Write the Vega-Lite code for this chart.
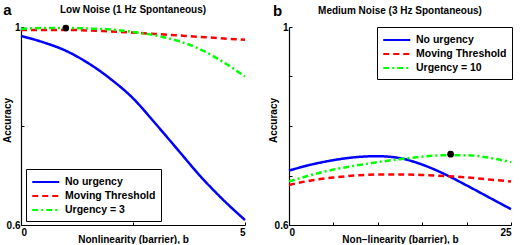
{
  "$schema": "https://vega.github.io/schema/vega-lite/v6.json",
  "padding": {"left": 2, "top": 2, "right": 0, "bottom": 0},
  "spacing": 18,
  "config": {
    "font": "Liberation Sans",
    "view": {"stroke": null},
    "axis": {
      "grid": false,
      "domainColor": "black",
      "domainWidth": 1.2,
      "tickColor": "black",
      "tickSize": -3,
      "tickWidth": 1,
      "labelFont": "Liberation Sans",
      "labelFontWeight": "bold",
      "labelFontSize": 10,
      "labelColor": "black",
      "titleFont": "Liberation Sans",
      "titleFontWeight": "bold",
      "titleFontSize": 10,
      "titleColor": "black"
    },
    "title": {"font": "Liberation Sans", "fontWeight": "bold", "fontSize": 10, "color": "black"},
    "legend": {
      "labelFont": "Liberation Sans",
      "labelFontWeight": "bold",
      "labelFontSize": 10.5,
      "labelColor": "black",
      "strokeColor": "black",
      "fillColor": "white",
      "padding": 5,
      "rowPadding": 0,
      "symbolType": "M-1,0H3",
      "symbolSize": 182,
      "symbolStrokeWidth": 2,
      "symbolFillColor": "transparent",
      "labelOffset": 18
    }
  },
  "datasets": {
    "a": [
      {"series": "No urgency", "b": 0, "acc": 0.982},
      {"series": "No urgency", "b": 0.5, "acc": 0.969},
      {"series": "No urgency", "b": 1, "acc": 0.952},
      {"series": "No urgency", "b": 1.5, "acc": 0.927},
      {"series": "No urgency", "b": 2, "acc": 0.895},
      {"series": "No urgency", "b": 2.5, "acc": 0.856},
      {"series": "No urgency", "b": 3, "acc": 0.805},
      {"series": "No urgency", "b": 3.5, "acc": 0.752},
      {"series": "No urgency", "b": 4, "acc": 0.699},
      {"series": "No urgency", "b": 4.5, "acc": 0.652},
      {"series": "No urgency", "b": 5, "acc": 0.610},
      {"series": "Moving Threshold", "b": 0, "acc": 0.994},
      {"series": "Moving Threshold", "b": 1, "acc": 0.994},
      {"series": "Moving Threshold", "b": 2, "acc": 0.991},
      {"series": "Moving Threshold", "b": 3, "acc": 0.986},
      {"series": "Moving Threshold", "b": 4, "acc": 0.980},
      {"series": "Moving Threshold", "b": 5, "acc": 0.974},
      {"series": "Urgency = 3", "b": 0, "acc": 0.996},
      {"series": "Urgency = 3", "b": 0.5, "acc": 0.998},
      {"series": "Urgency = 3", "b": 1, "acc": 0.998},
      {"series": "Urgency = 3", "b": 1.5, "acc": 0.997},
      {"series": "Urgency = 3", "b": 2, "acc": 0.995},
      {"series": "Urgency = 3", "b": 2.5, "acc": 0.990},
      {"series": "Urgency = 3", "b": 3, "acc": 0.983},
      {"series": "Urgency = 3", "b": 3.5, "acc": 0.972},
      {"series": "Urgency = 3", "b": 4, "acc": 0.955},
      {"series": "Urgency = 3", "b": 4.5, "acc": 0.930},
      {"series": "Urgency = 3", "b": 5, "acc": 0.900}
    ],
    "dotA": [{"b": 1.0, "acc": 0.998}],
    "bdata": [
      {"series": "No urgency", "b": 0, "acc": 0.710},
      {"series": "No urgency", "b": 2.5, "acc": 0.722},
      {"series": "No urgency", "b": 5, "acc": 0.731},
      {"series": "No urgency", "b": 7.5, "acc": 0.737},
      {"series": "No urgency", "b": 10, "acc": 0.739},
      {"series": "No urgency", "b": 12.5, "acc": 0.735},
      {"series": "No urgency", "b": 15, "acc": 0.722},
      {"series": "No urgency", "b": 17.5, "acc": 0.703},
      {"series": "No urgency", "b": 20, "acc": 0.680},
      {"series": "No urgency", "b": 22.5, "acc": 0.656},
      {"series": "No urgency", "b": 25, "acc": 0.632},
      {"series": "Moving Threshold", "b": 0, "acc": 0.681},
      {"series": "Moving Threshold", "b": 2.5, "acc": 0.690},
      {"series": "Moving Threshold", "b": 5, "acc": 0.696},
      {"series": "Moving Threshold", "b": 7.5, "acc": 0.700},
      {"series": "Moving Threshold", "b": 10, "acc": 0.702},
      {"series": "Moving Threshold", "b": 12.5, "acc": 0.702},
      {"series": "Moving Threshold", "b": 15, "acc": 0.701},
      {"series": "Moving Threshold", "b": 17.5, "acc": 0.699},
      {"series": "Moving Threshold", "b": 20, "acc": 0.696},
      {"series": "Moving Threshold", "b": 22.5, "acc": 0.692},
      {"series": "Moving Threshold", "b": 25, "acc": 0.688},
      {"series": "Urgency = 10", "b": 0, "acc": 0.688},
      {"series": "Urgency = 10", "b": 2.5, "acc": 0.701},
      {"series": "Urgency = 10", "b": 5, "acc": 0.712},
      {"series": "Urgency = 10", "b": 7.5, "acc": 0.720},
      {"series": "Urgency = 10", "b": 10, "acc": 0.727},
      {"series": "Urgency = 10", "b": 12.5, "acc": 0.733},
      {"series": "Urgency = 10", "b": 15, "acc": 0.738},
      {"series": "Urgency = 10", "b": 17.5, "acc": 0.741},
      {"series": "Urgency = 10", "b": 20, "acc": 0.741},
      {"series": "Urgency = 10", "b": 22.5, "acc": 0.736},
      {"series": "Urgency = 10", "b": 25, "acc": 0.727}
    ],
    "dotB": [{"b": 18.2, "acc": 0.743}]
  },
  "hconcat": [
    {
      "width": 224,
      "height": 198,
      "title": {"text": "Low Noise (1 Hz Spontaneous)", "baseline": "alphabetic", "offset": -21},
      "layer": [
        {
          "data": {"name": "a"},
          "mark": {"type": "line", "strokeWidth": 2.5, "interpolate": "monotone"},
          "encoding": {
            "x": {"field": "b", "type": "quantitative", "scale": {"domain": [0, 5], "nice": false},
              "axis": {"title": "Nonlinearity (barrier), b", "values": [0, 2.5, 5], "labelExpr": "datum.value == 2.5 ? '' : datum.label", "labelPadding": 5, "titleY": 17, "titleBaseline": "alphabetic"}},
            "y": {"field": "acc", "type": "quantitative", "scale": {"domain": [0.6, 1], "zero": false, "nice": false},
              "axis": {"title": "Accuracy", "values": [0.6, 0.8, 1], "labelExpr": "datum.value == 1 ? '1' : (datum.value == 0.6 ? '0.6' : '')", "labelPadding": 4, "titleX": -14, "titleY": 93, "titleAlign": "center", "titleBaseline": "middle", "titleAngle": 270}},
            "color": {"field": "series", "type": "nominal", "sort": null,
              "scale": {"domain": ["No urgency", "Moving Threshold", "Urgency = 3"], "range": ["#0000ff", "#ff0000", "#00ff00"]},
              "legend": {"title": null, "orient": "none", "legendX": 5, "legendY": 142}},
            "strokeDash": {"field": "series", "type": "nominal", "sort": null,
              "scale": {"domain": ["No urgency", "Moving Threshold", "Urgency = 3"], "range": [[1, 0], [6, 4], [6, 3, 2, 3]]},
              "legend": {"title": null, "orient": "none", "legendX": 5, "legendY": 142}}
          }
        },
        {
          "data": {"name": "dotA"},
          "mark": {"type": "circle", "size": 45, "color": "black", "opacity": 1},
          "encoding": {
            "x": {"field": "b", "type": "quantitative", "axis": {"orient": "top", "domain": false, "ticks": false, "labels": false, "title": "a", "titleFontSize": 15, "titleX": -14, "titleY": -13, "titleAlign": "center", "titleBaseline": "alphabetic"}},
            "y": {"field": "acc", "type": "quantitative"}
          }
        }
      ],
      "resolve": {"axis": {"x": "independent"}}
    },
    {
      "width": 222,
      "height": 198,
      "title": {"text": "Medium Noise (3 Hz Spontaneous)", "baseline": "alphabetic", "offset": -21},
      "layer": [
        {
          "data": {"name": "bdata"},
          "mark": {"type": "line", "strokeWidth": 2.5, "interpolate": "monotone"},
          "encoding": {
            "x": {"field": "b", "type": "quantitative", "scale": {"domain": [0, 25], "nice": false},
              "axis": {"title": "Non\u2212linearity (barrier), b", "values": [0, 5, 10, 15, 20, 25], "labelExpr": "datum.value == 0 || datum.value == 25 ? datum.label : ''", "labelPadding": 5, "titleY": 17, "titleBaseline": "alphabetic"}},
            "y": {"field": "acc", "type": "quantitative", "scale": {"domain": [0.6, 1], "zero": false, "nice": false},
              "axis": {"title": "Accuracy", "values": [0.6, 0.7, 0.8, 0.9, 1], "labelExpr": "datum.value == 1 ? '1' : (datum.value == 0.6 ? '0.6' : '')", "labelPadding": 4, "titleX": -16, "titleY": 93, "titleAlign": "center", "titleBaseline": "middle", "titleAngle": 270}},
            "color": {"field": "series", "type": "nominal", "sort": null,
              "scale": {"domain": ["No urgency", "Moving Threshold", "Urgency = 10"], "range": ["#0000ff", "#ff0000", "#00ff00"]},
              "legend": {"title": null, "orient": "none", "legendX": 88, "legendY": 0}},
            "strokeDash": {"field": "series", "type": "nominal", "sort": null,
              "scale": {"domain": ["No urgency", "Moving Threshold", "Urgency = 10"], "range": [[1, 0], [6, 4], [6, 3, 2, 3]]},
              "legend": {"title": null, "orient": "none", "legendX": 88, "legendY": 0}}
          }
        },
        {
          "data": {"name": "dotB"},
          "mark": {"type": "circle", "size": 45, "color": "black", "opacity": 1},
          "encoding": {
            "x": {"field": "b", "type": "quantitative", "axis": {"orient": "top", "domain": false, "ticks": false, "labels": false, "title": "b", "titleFontSize": 15, "titleX": -12, "titleY": -12, "titleAlign": "center", "titleBaseline": "alphabetic"}},
            "y": {"field": "acc", "type": "quantitative"}
          }
        }
      ],
      "resolve": {"axis": {"x": "independent"}, "scale": {"color": "independent", "strokeDash": "independent"}}
    }
  ],
  "resolve": {"scale": {"color": "independent", "strokeDash": "independent"}}
}
